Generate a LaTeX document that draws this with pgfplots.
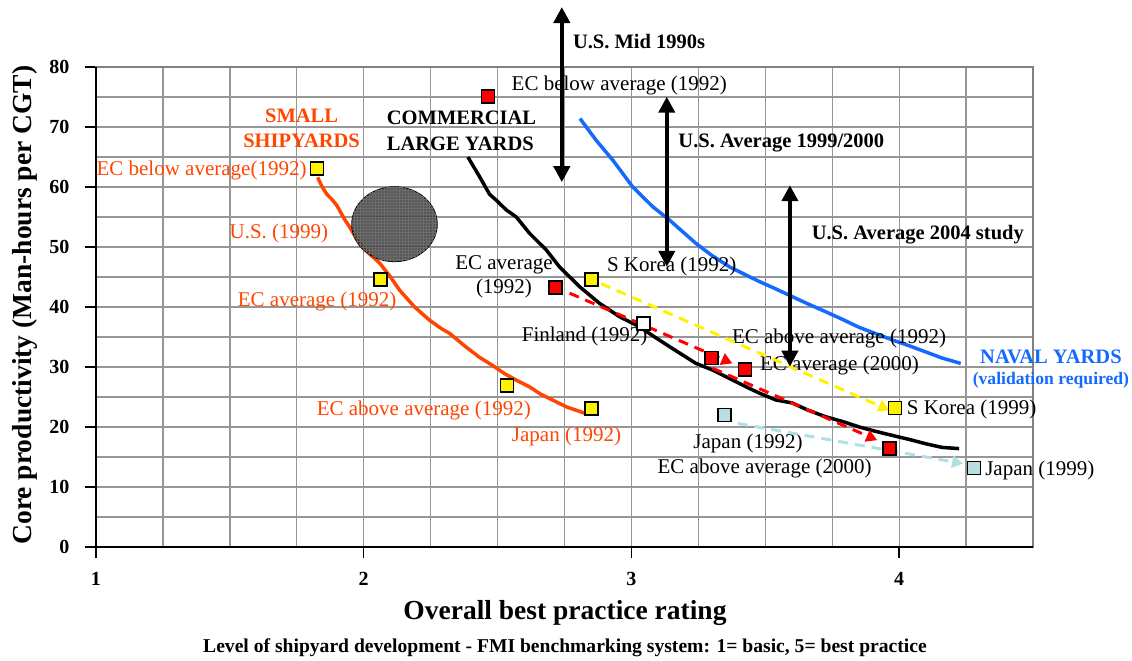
\documentclass[border=0pt]{standalone}
\usepackage{fontspec}
\setmainfont{Liberation Serif}
\usepackage{pgfplots}
\pgfplotsset{compat=1.18}
\usetikzlibrary{arrows.meta,patterns}

\definecolor{ored}{RGB}{255,69,0}
\definecolor{navblue}{RGB}{20,105,255}
\definecolor{gridgray}{RGB}{150,150,150}
\definecolor{ltblue}{RGB}{184,222,226}
\definecolor{dashblue}{RGB}{176,224,230}
\newcommand{\ann}{\fontsize{21}{24}\selectfont}
\newcommand{\bann}{\fontsize{20.5}{25.5}\selectfont\bfseries}

\begin{document}
\begin{tikzpicture}
\useasboundingbox (-96pt,-114pt) rectangle (1036pt,547pt);
\begin{axis}[
  at={(0pt,0pt)}, anchor=south west,
  scale only axis, width=937pt, height=480pt,
  xmin=1, xmax=4.5, ymin=0, ymax=80,
  clip=false,
  xtick={1,2,3,4}, ytick={0,10,...,80},
  minor xtick={1.25,1.5,1.75,2.25,2.5,2.75,3.25,3.5,3.75,4.25},
  minor ytick={5,15,...,75},
  grid=both,
  major grid style={gridgray, line width=1.3pt},
  minor grid style={gridgray, line width=1.3pt},
  axis line style={gray, line width=1.8pt},
  tick pos=left, tick align=outside,
  major tick length=11pt, minor tick length=0pt,
  tick style={black, line width=1.4pt},
  /pgf/number format/assume math mode=true,
  ticklabel style={font=\fontsize{20}{24}\selectfont\bfseries},
  xticklabel style={yshift=-11pt},
  yticklabel style={xshift=-12pt},
  xlabel={Overall best practice rating},
  xlabel style={font=\fontsize{27.5}{30}\selectfont\bfseries, at={(axis description cs:0.5005,-0.1375)}, anchor=center},
  ylabel={Core productivity (Man-hours per CGT)},
  ylabel style={font=\fontsize{27.5}{30}\selectfont\bfseries, at={(axis description cs:-0.0758,0.504)}, anchor=center},
]
% small shipyards curve
\addplot[ored, line width=3.5pt] coordinates {
(1.828,61.6) (1.845,60.0) (1.862,58.8) (1.884,57.8) (1.900,56.9) (1.910,56.1)
(1.930,54.5) (1.948,53.3) (1.970,51.6) (1.996,50.0) (2.025,48.7) (2.060,47.3)
(2.100,45.0) (2.134,42.8) (2.190,40.0) (2.246,37.8) (2.290,36.4) (2.321,35.6)
(2.380,33.4) (2.433,31.6) (2.480,30.3) (2.526,28.9) (2.570,27.8) (2.619,26.7)
(2.660,25.5) (2.705,24.5) (2.760,23.3) (2.800,22.7) (2.825,22.3)};
% ellipse (U.S. 1999)
\draw[black, line width=0.8pt, fill=black!80, fill opacity=0.82,
      postaction={pattern=grid, pattern color=black!58}]
  (axis cs:2.115,53.8) ellipse [x radius=42.8pt, y radius=37.5pt];
% commercial large yards
\addplot[black, line width=3.5pt] coordinates {
(2.389,65.0) (2.433,61.7) (2.470,58.8) (2.495,57.8) (2.532,56.2) (2.570,55.0)
(2.619,52.3) (2.682,49.5) (2.731,46.7) (2.806,43.4) (2.881,40.6) (2.955,38.4)
(3.030,36.7) (3.080,35.2) (3.142,33.4) (3.241,30.6) (3.303,29.5) (3.370,28.0)
(3.428,26.7) (3.480,25.6) (3.540,24.5) (3.601,24.0) (3.660,22.8) (3.726,21.7)
(3.790,20.9) (3.851,20.0) (3.910,19.3) (3.974,18.6) (4.040,17.9) (4.100,17.2)
(4.160,16.6) (4.224,16.4)};
% naval yards
\addplot[navblue, line width=3.5pt] coordinates {
(2.808,71.4) (2.868,67.8) (2.930,64.5) (3.005,60.0) (3.080,56.7) (3.142,54.5)
(3.190,52.6) (3.241,50.6) (3.300,48.6) (3.366,46.7) (3.420,45.5) (3.480,44.2)
(3.540,43.0) (3.602,41.7) (3.660,40.5) (3.726,39.2) (3.790,37.9) (3.851,36.6)
(3.910,35.6) (3.975,34.5) (4.040,33.5) (4.100,32.5) (4.160,31.5) (4.230,30.6)};

% text labels
\node[ored, inner sep=0pt, align=center, font=\bann] at (axis cs:1.768,69.8) {SMALL\\SHIPYARDS};
\node[ored, inner sep=0pt, anchor=east, font=\ann] at (axis cs:1.787,62.8) {EC below average(1992)};
\node[ored, inner sep=0pt, anchor=east, font=\ann] at (axis cs:1.868,52.3) {U.S. (1999)};
\node[ored, inner sep=0pt, anchor=east, font=\ann] at (axis cs:2.123,40.9) {EC average (1992)};
\node[ored, inner sep=0pt, anchor=west, font=\ann] at (axis cs:1.824,22.8) {EC above average (1992)};
\node[ored, inner sep=0pt, anchor=west, font=\ann] at (axis cs:2.553,18.4) {Japan (1992)};
\node[black, inner sep=0pt, anchor=west, align=left, font=\bann] at (axis cs:2.086,69.4) {COMMERCIAL\\LARGE YARDS};
\node[inner sep=0pt, anchor=west, font=\ann] at (axis cs:2.552,77.0) {EC below average (1992)};
\node[inner sep=0pt, anchor=west, font=\bann] at (axis cs:2.781,84.2) {U.S. Mid 1990s};
\node[inner sep=0pt, anchor=west, font=\bann] at (axis cs:3.175,67.3) {U.S. Average 1999/2000};
\node[inner sep=0pt, anchor=west, font=\bann] at (axis cs:3.673,52.0) {U.S. Average 2004 study};
\node[inner sep=0pt, align=center, font=\fontsize{21}{23.5}\selectfont] at (axis cs:2.524,45.05) {EC average\\(1992)};
\node[inner sep=0pt, anchor=west, font=\ann] at (axis cs:2.908,46.7) {S Korea (1992)};
\node[inner sep=0pt, anchor=west, font=\ann] at (axis cs:2.590,35.05) {Finland (1992)};
\node[inner sep=0pt, anchor=west, font=\ann] at (axis cs:3.375,34.67) {EC above average (1992)};
\node[inner sep=0pt, anchor=west, font=\ann] at (axis cs:3.480,30.2) {EC average (2000)};
\node[inner sep=0pt, anchor=west, font=\ann] at (axis cs:4.028,22.95) {S Korea (1999)};
\node[inner sep=0pt, anchor=west, font=\ann] at (axis cs:3.231,17.3) {Japan (1992)};
\node[inner sep=0pt, anchor=west, font=\ann] at (axis cs:3.097,13.1) {EC above average (2000)};
\node[inner sep=0pt, anchor=west, font=\ann] at (axis cs:4.321,12.8) {Japan (1999)};
\node[navblue, inner sep=0pt, font=\bann] at (axis cs:4.567,31.7) {NAVAL YARDS};
\node[navblue, inner sep=0pt, font=\fontsize{17.6}{20}\selectfont\bfseries] at (axis cs:4.567,27.8) {(validation required)};
\node[inner sep=0pt, font=\fontsize{19.6}{22}\selectfont\bfseries] at (axis description cs:0.5005,-0.2104)
  {Level of shipyard development - FMI benchmarking system: 1= basic, 5= best practice};

% dashed arrows
\addplot[red, line width=3pt, dash pattern=on 10pt off 7pt, -{Triangle[width=12pt,length=11pt]}] coordinates {(2.769,42.3) (3.377,30.6)};
\addplot[red, line width=3pt, dash pattern=on 10pt off 7pt, -{Triangle[width=12pt,length=11pt]}] coordinates {(3.303,29.8) (3.918,17.8)};
\addplot[yellow, line width=3pt, dash pattern=on 10pt off 7pt, -{Triangle[width=12pt,length=11pt]}] coordinates {(2.887,43.9) (3.963,22.8)};
\addplot[dashblue, line width=3pt, dash pattern=on 10pt off 7pt, -{Triangle[width=12pt,length=11pt]}] coordinates {(3.397,20.6) (4.239,13.9)};

% markers
\addplot[only marks, mark=square*, mark size=6.5pt, mark options={fill=yellow, draw=black, line width=1.6pt}] coordinates {
(1.826,63.1) (2.063,44.6) (2.535,26.9) (2.851,23.1) (2.851,44.6) (3.985,23.2)};
\addplot[only marks, mark=square*, mark size=6.5pt, mark options={fill=red, draw=black, line width=1.6pt}] coordinates {
(2.464,75.05) (2.716,43.3) (3.300,31.5) (3.424,29.6) (3.963,16.4)};
\addplot[only marks, mark=square*, mark size=6.5pt, mark options={fill=white, draw=black, line width=1.6pt}] coordinates {(3.045,37.3)};
\addplot[only marks, mark=square*, mark size=6.5pt, mark options={fill=ltblue, draw=black, line width=1.6pt}] coordinates {(3.347,22.0) (4.280,13.2)};

% double arrows
\addplot[black, line width=4pt, {Triangle[width=16pt,length=16pt]}-{Triangle[width=16pt,length=16pt]}] coordinates {(2.740,90.0) (2.740,60.8)};
\addplot[black, line width=4pt, {Triangle[width=16pt,length=16pt]}-{Triangle[width=16pt,length=16pt]}] coordinates {(3.132,75.05) (3.132,46.7)};
\addplot[black, line width=4pt, {Triangle[width=16pt,length=16pt]}-{Triangle[width=16pt,length=16pt]}] coordinates {(3.592,60.3) (3.592,30.05)};

% left and bottom axis lines
\draw[black, line width=2pt] (rel axis cs:0,1) -- (rel axis cs:0,0) -- (rel axis cs:1,0);
\end{axis}
\end{tikzpicture}
\end{document}
